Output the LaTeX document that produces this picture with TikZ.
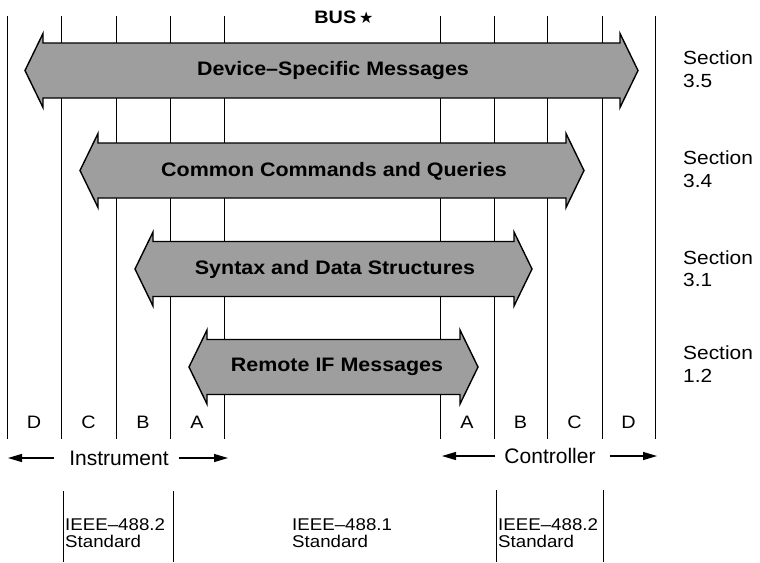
\documentclass[tikz,border=0pt]{standalone}
\usepackage{fontspec}
\setmainfont{Liberation Sans}
\newfontfamily\wf{Liberation Sans}[FakeStretch=1.1]
\newfontfamily\nf{Liberation Sans}
\newfontfamily\symf{DejaVu Sans}
\usetikzlibrary{arrows.meta}
\tikzset{
  col/.style={line width=0.9pt},
  bigarrow/.style={draw=black, line width=1.4pt, fill=black!38, line join=miter},
  arrowlabel/.style={font=\wf\bfseries\fontsize{19.5}{22}\selectfont, inner sep=0pt},
  seclabel/.style={font=\wf\fontsize{19}{22.5}\selectfont, align=left, anchor=west, inner sep=0pt},
  letter/.style={font=\wf\fontsize{18}{20}\selectfont, inner sep=0pt},
  side/.style={font=\nf\fontsize{21}{24}\selectfont, inner sep=0pt},
  sidearrow/.style={line width=1.2pt, -{Triangle[length=14pt,width=8pt]}},
  stdlabel/.style={font=\wf\fontsize{17}{16.5}\selectfont, align=left, anchor=west, inner sep=0pt},
}
\newcommand\dblarrow[3]{%
  \path[bigarrow] (#1,#3) -- ({#1+18},{#3-37}) -- ({#1+18},{#3-27.5}) -- ({#2-18},{#3-27.5})
    -- ({#2-18},{#3-37}) -- (#2,#3) -- ({#2-18},{#3+37}) -- ({#2-18},{#3+27.5})
    -- ({#1+18},{#3+27.5}) -- ({#1+18},{#3+37}) -- cycle;}
\begin{document}
\begin{tikzpicture}[x=1pt,y=-1pt]
\useasboundingbox (0,0) rectangle (760,562);
% column lines
\foreach \x in {7,61,116,170,224,440,494,547,602,655}
  \draw[col] (\x,16) -- (\x,439);
% big double arrows
\dblarrow{25}{638}{70.5}
\dblarrow{80}{584}{170.5}
\dblarrow{135}{532}{269}
\dblarrow{189}{478}{367}
\node[arrowlabel] (dsm) at (333,71) {Device–Specific Messages};
\node[arrowlabel] (ccq) at (334,171) {Common Commands and Queries};
\node[arrowlabel] (sds) at (335,269) {Syntax and Data Structures};
\node[arrowlabel] (rif) at (337,367) {Remote IF Messages};
% title
\node[font=\wf\bfseries\fontsize{18}{20}\selectfont, inner sep=0pt] (bus) at (344,17)
  {BUS\,{\symf\mdseries\fontsize{16}{16}\selectfont ★}};
% section labels
\node[seclabel] (s35) at (683,69) {Section\\3.5};
\node[seclabel] (s34) at (683,169) {Section\\3.4};
\node[seclabel] (s31) at (683,268.5) {Section\\3.1};
\node[seclabel] (s12) at (683,364) {Section\\1.2};
% column letters
\node[letter] (lD) at (34,422) {D};
\node[letter] (lC) at (88.5,422) {C};
\node[letter] (lB) at (143,422) {B};
\node[letter] (lA) at (197,422) {A};
\node[letter] (rA) at (467,422) {A};
\node[letter] (rB) at (520.5,422) {B};
\node[letter] (rC) at (574.5,422) {C};
\node[letter] (rD) at (628.5,422) {D};
% instrument / controller
\node[side] (instr) at (119,458) {Instrument};
\coordinate (iL) at (8,458);
\coordinate (iR) at (228,458);
\draw[sidearrow] ([xshift=-15pt]instr.west) -- (iL);
\draw[sidearrow] ([xshift=10pt]instr.east) -- (iR);
\node[side] (ctrl) at (550,456) {Controller};
\coordinate (cL) at (442,456);
\coordinate (cR) at (657,456);
\draw[sidearrow] ([xshift=-9pt]ctrl.west) -- (cL);
\draw[sidearrow] ([xshift=14pt]ctrl.east) -- (cR);
% standard boxes
\draw[col] (63,491) -- (63,562);
\draw[col] (173,491) -- (173,562);
\draw[col] (496,490) -- (496,562);
\draw[col] (603,490) -- (603,562);
\node[stdlabel] (std1) at (65,533) {IEEE–488.2\\Standard};
\node[stdlabel] (std2) at (292,533) {IEEE–488.1\\Standard};
\node[stdlabel] (std3) at (498,533) {IEEE–488.2\\Standard};
\end{tikzpicture}
\end{document}
